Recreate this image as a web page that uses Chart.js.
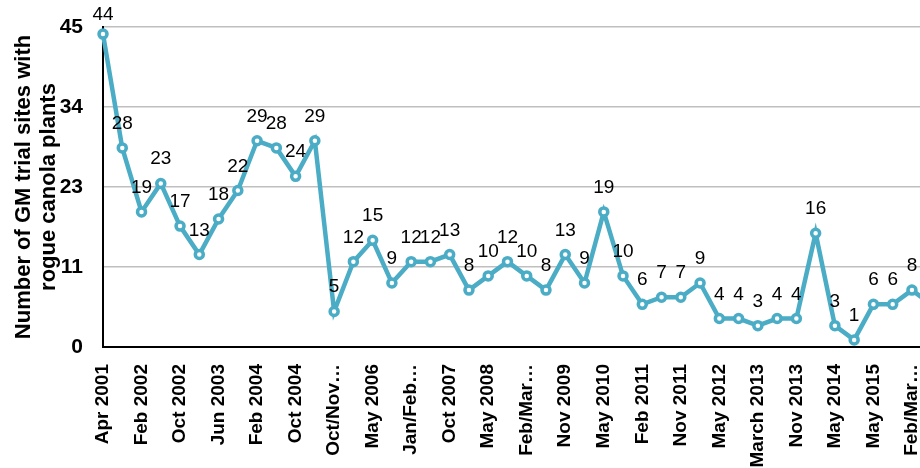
<!DOCTYPE html>
<html>
<head>
<meta charset="utf-8">
<script src="https://cdn.jsdelivr.net/npm/chart.js@4.4.1/dist/chart.umd.min.js"></script>
<style>
    html, body { margin: 0; padding: 0; background: #fff; overflow: hidden; }
    #wrap { position: absolute; left: 0; top: 0; width: 963px; height: 468px; }
</style>
</head>
<body>
<div id="wrap"><canvas id="rogueChart"></canvas></div>
<script>
// survey dates (only every other one is printed on the axis)
const surveyDates = [
    'Apr 2001', '', 'Feb 2002', '', 'Oct 2002', '', 'Jun 2003', '', 'Feb 2004', '',
    'Oct 2004', '', 'Oct/Nov…', '', 'May 2006', '', 'Jan/Feb…', '', 'Oct 2007', '',
    'May 2008', '', 'Feb/Mar…', '', 'Nov 2009', '', 'May 2010', '', 'Feb 2011', '',
    'Nov 2011', '', 'May 2012', '', 'March 2013', '', 'Nov 2013', '', 'May 2014', '',
    'May 2015', '', 'Feb/Mar…', ''
];

// number of GM trial sites with rogue canola plants
const rogueSites = [
    44, 28, 19, 23, 17, 13, 18, 22, 29, 28,
    24, 29, 5, 12, 15, 9, 12, 12, 13, 8,
    10, 12, 10, 8, 13, 9, 19, 10, 6, 7,
    7, 9, 4, 4, 3, 4, 4, 16, 3, 1,
    6, 6, 8, 6
];

const yTicks = [0, 11.25, 22.5, 33.75, 45];

const lineColor = '#4BACC6';
const fontFamily = '"Liberation Sans", Arial, Helvetica, sans-serif';

// value printed above each point
const pointLabels = {
    id: 'pointLabels',
    afterDatasetsDraw(chart) {
        const ctx = chart.ctx;
        const meta = chart.getDatasetMeta(0);
        ctx.save();
        ctx.font = '19px ' + fontFamily;
        ctx.fillStyle = '#000';
        ctx.textAlign = 'center';
        ctx.textBaseline = 'alphabetic';
        meta.data.forEach((pt, i) => {
            ctx.fillText(String(rogueSites[i]), pt.x, Math.max(pt.y - 19, 20));
        });
        ctx.restore();
    }
};

new Chart(document.getElementById('rogueChart'), {
    type: 'line',
    data: {
        labels: surveyDates,
        datasets: [{
            data: rogueSites,
            borderColor: lineColor,
            borderWidth: 4.5,
            pointRadius: 4,
            pointBorderWidth: 3.5,
            pointBorderColor: lineColor,
            pointBackgroundColor: '#fff',
            tension: 0,
            clip: false
        }]
    },
    options: {
        responsive: true,
        maintainAspectRatio: false,
        animation: false,
        layout: { padding: { top: 27, right: 11, left: 0, bottom: 0 } },
        plugins: {
            legend: { display: false },
            tooltip: { enabled: false }
        },
        scales: {
            x: {
                grid: { display: false },
                border: { color: '#000', width: 2 },
                ticks: {
                    autoSkip: false,
                    maxRotation: 90,
                    minRotation: 90,
                    padding: 9,
                    color: '#000',
                    font: { family: fontFamily, size: 19, weight: 'bold' }
                },
                afterFit(scale) { scale.height = 121; }
            },
            y: {
                min: 0,
                max: 45,
                afterBuildTicks(scale) {
                    scale.ticks = yTicks.map(v => ({ value: v }));
                },
                grid: { color: '#bfbfbf', lineWidth: 1.5, drawTicks: false },
                border: { color: '#000', width: 2 },
                ticks: {
                    padding: 20,
                    color: '#000',
                    font: { family: fontFamily, size: 21, weight: 'bold' },
                    callback: v => Math.round(v)
                },
                title: {
                    display: true,
                    text: ['Number of GM trial sites with', 'rogue canola plants'],
                    color: '#000',
                    padding: { top: 11, bottom: 0 },
                    font: { family: fontFamily, size: 22, weight: 'bold', lineHeight: 1.14 }
                },
                afterFit(scale) {
                    scale.width = 103;
                    scale.paddingTop = 0;
                    scale.paddingBottom = 0;
                }
            }
        }
    },
    plugins: [pointLabels]
});
</script>
</body>
</html>
